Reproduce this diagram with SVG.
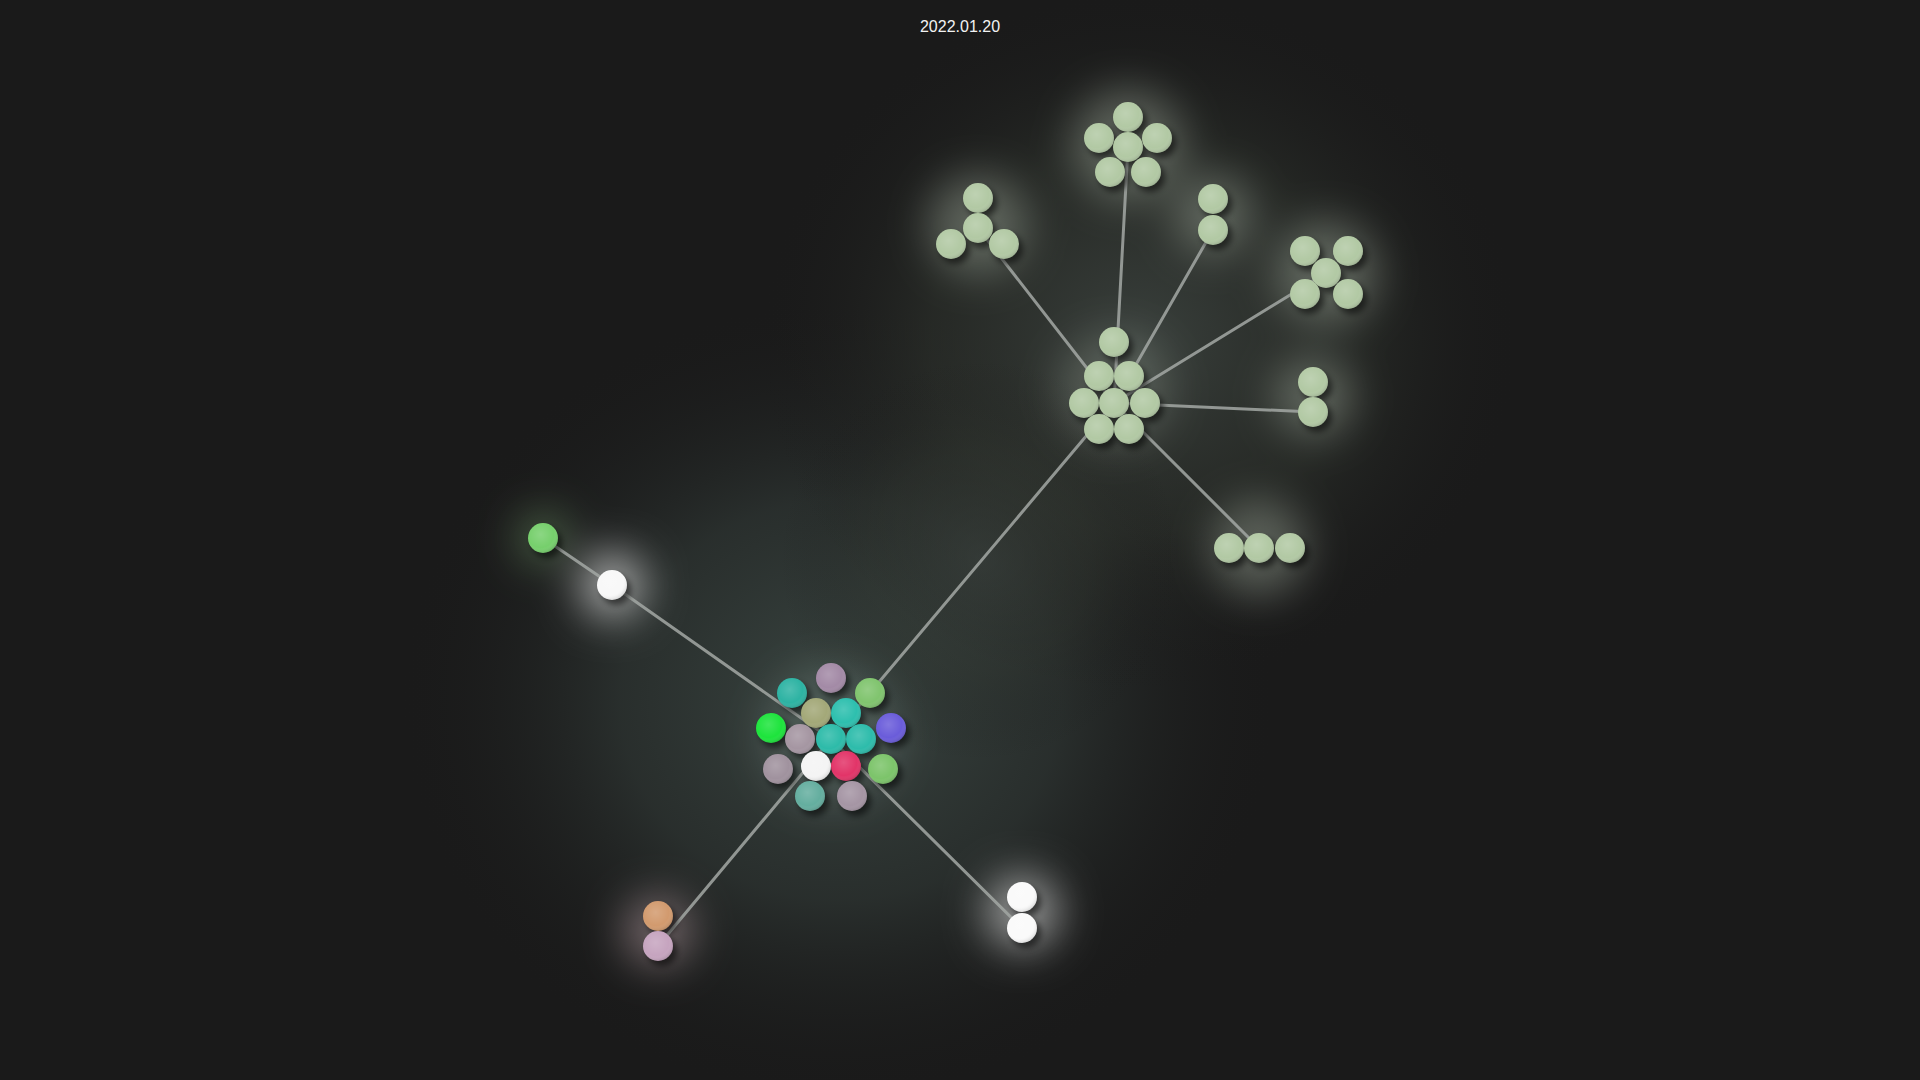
<svg xmlns="http://www.w3.org/2000/svg" width="1920" height="1080" viewBox="0 0 1920 1080">
<defs>
<style>
.bg{fill:#1a1a1a}
.title{font-family:"Liberation Sans",Arial,sans-serif;font-size:16px;fill:#f2f2f2;text-anchor:middle}
.edge{stroke:#a3a8a5;stroke-width:3;stroke-opacity:0.85;stroke-linecap:round;fill:none}
.sh{fill:#000;fill-opacity:0.55;filter:url(#shblur)}
.hl{fill:url(#shade)}
.sage{fill:#b2c9a4}
.glowc{filter:url(#glow)}
</style>
<radialGradient id="shade" cx="0.42" cy="0.38" r="0.68">
<stop offset="0" stop-color="#fff" stop-opacity="0.16"/>
<stop offset="0.65" stop-color="#fff" stop-opacity="0"/>
<stop offset="1" stop-color="#000" stop-opacity="0.2"/>
</radialGradient>
<radialGradient id="amb1">
<stop offset="0" stop-color="#3b4743" stop-opacity="0.95"/>
<stop offset="0.5" stop-color="#333c39" stop-opacity="0.6"/>
<stop offset="1" stop-color="#1a1a1a" stop-opacity="0"/>
</radialGradient>
<radialGradient id="amb2">
<stop offset="0" stop-color="#3d4440" stop-opacity="0.9"/>
<stop offset="0.55" stop-color="#30352f" stop-opacity="0.55"/>
<stop offset="1" stop-color="#1a1a1a" stop-opacity="0"/>
</radialGradient>
<filter id="shblur" x="-50%" y="-50%" width="200%" height="200%"><feGaussianBlur stdDeviation="3"/></filter>
<filter id="glow" x="-100%" y="-100%" width="300%" height="300%"><feGaussianBlur stdDeviation="20"/></filter>
</defs>
<rect class="bg" x="0" y="0" width="1920" height="1080"/>
<g id="ambient">
<ellipse cx="840" cy="700" rx="440" ry="400" fill="url(#amb1)"/>
<ellipse cx="1140" cy="340" rx="380" ry="350" fill="url(#amb2)"/>
<ellipse cx="980" cy="560" rx="200" ry="200" fill="url(#amb2)" opacity="0.6"/>
</g>
<g id="glows" class="glowc" fill-opacity="0.3">
<circle cx="612" cy="585" r="34" fill="#ffffff" fill-opacity="0.55"/>
<circle cx="543" cy="538" r="28" fill="#9ad890"/>
<circle cx="658" cy="931" r="36" fill="#e0c0c8" fill-opacity="0.4"/>
<circle cx="1022" cy="912" r="38" fill="#ffffff" fill-opacity="0.5"/>
<circle cx="1128" cy="145" r="56" fill="#d8e4d0"/>
<circle cx="978" cy="225" r="50" fill="#d8e4d0"/>
<circle cx="1213" cy="215" r="40" fill="#d8e4d0"/>
<circle cx="1326" cy="273" r="52" fill="#d8e4d0"/>
<circle cx="1313" cy="397" r="40" fill="#d8e4d0"/>
<circle cx="1259" cy="548" r="48" fill="#d8e4d0"/>
<circle cx="1114" cy="390" r="56" fill="#d8e4d0" fill-opacity="0.2"/>
<circle cx="831" cy="737" r="70" fill="#9fb8b0" fill-opacity="0.2"/>
</g>
<g id="connectors">
<line class="edge" x1="831" y1="739" x2="612" y2="585"/>
<line class="edge" x1="612" y1="585" x2="543" y2="538"/>
<line class="edge" x1="831" y1="739" x2="658" y2="946"/>
<line class="edge" x1="831" y1="739" x2="1022" y2="928"/>
<line class="edge" x1="831" y1="739" x2="1114" y2="403"/>
<line class="edge" x1="1114" y1="403" x2="978" y2="228"/>
<line class="edge" x1="1114" y1="403" x2="1128" y2="147"/>
<line class="edge" x1="1114" y1="403" x2="1213" y2="230"/>
<line class="edge" x1="1114" y1="403" x2="1326" y2="273"/>
<line class="edge" x1="1114" y1="403" x2="1313" y2="412"/>
<line class="edge" x1="1114" y1="403" x2="1259" y2="548"/>
</g>
<g id="shadows">
<circle class="sh" cx="835" cy="683" r="15"/><circle class="sh" cx="796" cy="698" r="15"/><circle class="sh" cx="874" cy="698" r="15"/><circle class="sh" cx="820" cy="718" r="15"/><circle class="sh" cx="850" cy="718" r="15"/><circle class="sh" cx="775" cy="733" r="15"/><circle class="sh" cx="895" cy="733" r="15"/><circle class="sh" cx="804" cy="744" r="15"/><circle class="sh" cx="835" cy="744" r="15"/><circle class="sh" cx="865" cy="744" r="15"/><circle class="sh" cx="782" cy="774" r="15"/><circle class="sh" cx="820" cy="771" r="15"/><circle class="sh" cx="850" cy="771" r="15"/><circle class="sh" cx="887" cy="774" r="15"/><circle class="sh" cx="814" cy="801" r="15"/><circle class="sh" cx="856" cy="801" r="15"/>
<circle class="sh" cx="547" cy="543" r="15"/><circle class="sh" cx="616" cy="590" r="15"/><circle class="sh" cx="662" cy="921" r="15"/><circle class="sh" cx="662" cy="951" r="15"/><circle class="sh" cx="1026" cy="902" r="15"/><circle class="sh" cx="1026" cy="933" r="15"/>
<circle class="sh" cx="1118" cy="347" r="15"/><circle class="sh" cx="1103" cy="381" r="15"/><circle class="sh" cx="1133" cy="381" r="15"/><circle class="sh" cx="1088" cy="408" r="15"/><circle class="sh" cx="1118" cy="408" r="15"/><circle class="sh" cx="1149" cy="408" r="15"/><circle class="sh" cx="1103" cy="434" r="15"/><circle class="sh" cx="1133" cy="434" r="15"/>
<circle class="sh" cx="982" cy="203" r="15"/><circle class="sh" cx="982" cy="233" r="15"/><circle class="sh" cx="955" cy="249" r="15"/><circle class="sh" cx="1008" cy="249" r="15"/>
<circle class="sh" cx="1132" cy="122" r="15"/><circle class="sh" cx="1103" cy="143" r="15"/><circle class="sh" cx="1161" cy="143" r="15"/><circle class="sh" cx="1132" cy="152" r="15"/><circle class="sh" cx="1114" cy="177" r="15"/><circle class="sh" cx="1150" cy="177" r="15"/>
<circle class="sh" cx="1217" cy="204" r="15"/><circle class="sh" cx="1217" cy="235" r="15"/>
<circle class="sh" cx="1309" cy="256" r="15"/><circle class="sh" cx="1352" cy="256" r="15"/><circle class="sh" cx="1330" cy="278" r="15"/><circle class="sh" cx="1309" cy="299" r="15"/><circle class="sh" cx="1352" cy="299" r="15"/>
<circle class="sh" cx="1317" cy="387" r="15"/><circle class="sh" cx="1317" cy="417" r="15"/>
<circle class="sh" cx="1233" cy="553" r="15"/><circle class="sh" cx="1263" cy="553" r="15"/><circle class="sh" cx="1294" cy="553" r="15"/>
</g>
<g id="node-center">
<circle cx="831" cy="678" r="15" fill="#a38aa6"/><circle class="hl" cx="831" cy="678" r="15"/>
<circle cx="792" cy="693" r="15" fill="#2db3a3"/><circle class="hl" cx="792" cy="693" r="15"/>
<circle cx="870" cy="693" r="15" fill="#80c46e"/><circle class="hl" cx="870" cy="693" r="15"/>
<circle cx="816" cy="713" r="15" fill="#a3a878"/><circle class="hl" cx="816" cy="713" r="15"/>
<circle cx="846" cy="713" r="15" fill="#2dbfae"/><circle class="hl" cx="846" cy="713" r="15"/>
<circle cx="771" cy="728" r="15" fill="#1de43c"/><circle class="hl" cx="771" cy="728" r="15"/>
<circle cx="891" cy="728" r="15" fill="#6a5cda"/><circle class="hl" cx="891" cy="728" r="15"/>
<circle cx="800" cy="739" r="15" fill="#a596a2"/><circle class="hl" cx="800" cy="739" r="15"/>
<circle cx="831" cy="739" r="15" fill="#2dbba9"/><circle class="hl" cx="831" cy="739" r="15"/>
<circle cx="861" cy="739" r="15" fill="#2dbcab"/><circle class="hl" cx="861" cy="739" r="15"/>
<circle cx="778" cy="769" r="15" fill="#a0929e"/><circle class="hl" cx="778" cy="769" r="15"/>
<circle cx="816" cy="766" r="15" fill="#f4f4f4"/><circle class="hl" cx="816" cy="766" r="15"/>
<circle cx="846" cy="766" r="15" fill="#e23468"/><circle class="hl" cx="846" cy="766" r="15"/>
<circle cx="883" cy="769" r="15" fill="#7cc46a"/><circle class="hl" cx="883" cy="769" r="15"/>
<circle cx="810" cy="796" r="15" fill="#64ae9f"/><circle class="hl" cx="810" cy="796" r="15"/>
<circle cx="852" cy="796" r="15" fill="#a595a4"/><circle class="hl" cx="852" cy="796" r="15"/>
</g>
<g id="node-left">
<circle cx="543" cy="538" r="15" fill="#76cf6c"/><circle class="hl" cx="543" cy="538" r="15"/>
<circle cx="612" cy="585" r="15" fill="#f8f8f8"/><circle class="hl" cx="612" cy="585" r="15"/>
</g>
<g id="node-bottom-left">
<circle cx="658" cy="916" r="15" fill="#d29a6e"/><circle class="hl" cx="658" cy="916" r="15"/>
<circle cx="658" cy="946" r="15" fill="#c6a4bf"/><circle class="hl" cx="658" cy="946" r="15"/>
</g>
<g id="node-bottom-right">
<circle cx="1022" cy="897" r="15" fill="#fafafa"/><circle class="hl" cx="1022" cy="897" r="15"/>
<circle cx="1022" cy="928" r="15" fill="#fafafa"/><circle class="hl" cx="1022" cy="928" r="15"/>
</g>
<g id="node-hub">
<circle class="sage" cx="1114" cy="342" r="15"/><circle class="hl" cx="1114" cy="342" r="15"/>
<circle class="sage" cx="1099" cy="376" r="15"/><circle class="hl" cx="1099" cy="376" r="15"/>
<circle class="sage" cx="1129" cy="376" r="15"/><circle class="hl" cx="1129" cy="376" r="15"/>
<circle class="sage" cx="1084" cy="403" r="15"/><circle class="hl" cx="1084" cy="403" r="15"/>
<circle class="sage" cx="1114" cy="403" r="15"/><circle class="hl" cx="1114" cy="403" r="15"/>
<circle class="sage" cx="1145" cy="403" r="15"/><circle class="hl" cx="1145" cy="403" r="15"/>
<circle class="sage" cx="1099" cy="429" r="15"/><circle class="hl" cx="1099" cy="429" r="15"/>
<circle class="sage" cx="1129" cy="429" r="15"/><circle class="hl" cx="1129" cy="429" r="15"/>
</g>
<g id="node-triangle">
<circle class="sage" cx="978" cy="198" r="15"/><circle class="hl" cx="978" cy="198" r="15"/>
<circle class="sage" cx="978" cy="228" r="15"/><circle class="hl" cx="978" cy="228" r="15"/>
<circle class="sage" cx="951" cy="244" r="15"/><circle class="hl" cx="951" cy="244" r="15"/>
<circle class="sage" cx="1004" cy="244" r="15"/><circle class="hl" cx="1004" cy="244" r="15"/>
</g>
<g id="node-flower">
<circle class="sage" cx="1128" cy="117" r="15"/><circle class="hl" cx="1128" cy="117" r="15"/>
<circle class="sage" cx="1099" cy="138" r="15"/><circle class="hl" cx="1099" cy="138" r="15"/>
<circle class="sage" cx="1157" cy="138" r="15"/><circle class="hl" cx="1157" cy="138" r="15"/>
<circle class="sage" cx="1128" cy="147" r="15"/><circle class="hl" cx="1128" cy="147" r="15"/>
<circle class="sage" cx="1110" cy="172" r="15"/><circle class="hl" cx="1110" cy="172" r="15"/>
<circle class="sage" cx="1146" cy="172" r="15"/><circle class="hl" cx="1146" cy="172" r="15"/>
</g>
<g id="node-pair-top">
<circle class="sage" cx="1213" cy="199" r="15"/><circle class="hl" cx="1213" cy="199" r="15"/>
<circle class="sage" cx="1213" cy="230" r="15"/><circle class="hl" cx="1213" cy="230" r="15"/>
</g>
<g id="node-quincunx">
<circle class="sage" cx="1305" cy="251" r="15"/><circle class="hl" cx="1305" cy="251" r="15"/>
<circle class="sage" cx="1348" cy="251" r="15"/><circle class="hl" cx="1348" cy="251" r="15"/>
<circle class="sage" cx="1326" cy="273" r="15"/><circle class="hl" cx="1326" cy="273" r="15"/>
<circle class="sage" cx="1305" cy="294" r="15"/><circle class="hl" cx="1305" cy="294" r="15"/>
<circle class="sage" cx="1348" cy="294" r="15"/><circle class="hl" cx="1348" cy="294" r="15"/>
</g>
<g id="node-pair-right">
<circle class="sage" cx="1313" cy="382" r="15"/><circle class="hl" cx="1313" cy="382" r="15"/>
<circle class="sage" cx="1313" cy="412" r="15"/><circle class="hl" cx="1313" cy="412" r="15"/>
</g>
<g id="node-row">
<circle class="sage" cx="1229" cy="548" r="15"/><circle class="hl" cx="1229" cy="548" r="15"/>
<circle class="sage" cx="1259" cy="548" r="15"/><circle class="hl" cx="1259" cy="548" r="15"/>
<circle class="sage" cx="1290" cy="548" r="15"/><circle class="hl" cx="1290" cy="548" r="15"/>
</g>
<text class="title" x="960" y="32">2022.01.20</text>
</svg>
